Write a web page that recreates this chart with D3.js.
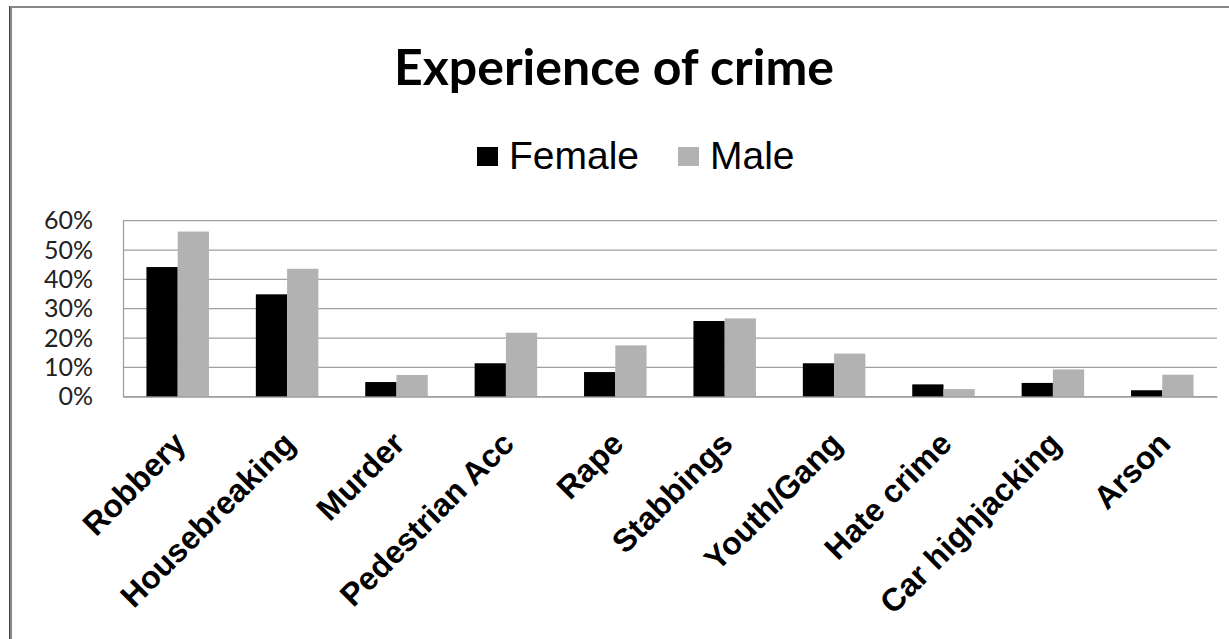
<!DOCTYPE html>
<html>
  <head>
    <style>
      body { margin: 0; background: #fff; }
    </style>
  </head>
  <body>
    <script src="https://d3js.org/d3.v7.min.js"></script>
    <script>
      // chart values
      const crimes = ["Robbery", "Housebreaking", "Murder", "Pedestrian Acc", "Rape",
        "Stabbings", "Youth/Gang", "Hate crime", "Car highjacking", "Arson"];
      const female = [0.442, 0.349, 0.050, 0.114, 0.084, 0.258, 0.114, 0.042, 0.047, 0.022];
      const male = [0.563, 0.436, 0.074, 0.218, 0.175, 0.267, 0.147, 0.026, 0.093, 0.075];
      const seriesNames = ["Female", "Male"];
      const seriesColors = ["#000000", "#b2b2b2"];
      const yTicks = [0, 0.1, 0.2, 0.3, 0.4, 0.5, 0.6];

      const W = 1229, H = 639;
      const svg = d3.select("body").append("svg")
        .attr("width", W)
        .attr("height", H);

      // outer chart frame (only top and left edges are visible)
      svg.append("rect").attr("x", 9).attr("y", 6).attr("width", W - 9).attr("height", 2).attr("fill", "#888");
      svg.append("rect").attr("x", 9).attr("y", 6).attr("width", 3).attr("height", H - 6).attr("fill", "#888");
      svg.append("rect").attr("x", 9).attr("y", 6).attr("width", 1).attr("height", H - 6).attr("fill", "#444");

      const plotL = 123, plotR = 1217, plotT = 220.7, plotB = 396.7;

      const x = d3.scaleBand().domain(crimes).range([plotL, plotR]).paddingInner(0).paddingOuter(0);
      const y = d3.scaleLinear().domain([0, 0.6]).range([plotB, plotT]);
      const barW = x.bandwidth() / 3.5;

      // title
      svg.append("text")
        .attr("x", 614).attr("y", 85)
        .attr("text-anchor", "middle")
        .attr("font-family", "Lato")
        .attr("font-weight", "bold")
        .attr("font-size", 50)
        .attr("fill", "#000")
        .text("Experience of crime");

      // legend
      const legendX = [477, 678];
      seriesNames.forEach((name, i) => {
        svg.append("rect")
          .attr("x", legendX[i]).attr("y", 147)
          .attr("width", 21).attr("height", 19)
          .attr("fill", seriesColors[i]);
        svg.append("text")
          .attr("x", legendX[i] + 32).attr("y", 169)
          .attr("font-family", "Liberation Sans")
          .attr("font-size", 39)
          .attr("fill", "#000")
          .text(name);
      });

      // gridlines
      svg.append("g")
        .selectAll("line")
        .data(yTicks)
        .join("line")
        .attr("x1", plotL).attr("x2", plotR)
        .attr("y1", d => y(d)).attr("y2", d => y(d))
        .attr("stroke", "#a0a0a0")
        .attr("stroke-width", 1.3);

      // y axis
      const yAxis = d3.axisLeft(y).tickValues(yTicks).tickFormat(d3.format(".0%")).tickSize(0).tickPadding(30);
      const gy = svg.append("g").attr("transform", `translate(${plotL},0)`).call(yAxis);
      gy.select(".domain").attr("stroke", "#a0a0a0").attr("stroke-width", 1.3);
      gy.selectAll("text")
        .attr("font-family", "Lato")
        .attr("font-size", 25)
        .attr("fill", "#222");

      // bars
      const series = [female, male];
      series.forEach((vals, s) => {
        svg.append("g")
          .selectAll("rect")
          .data(vals)
          .join("rect")
          .attr("x", (d, i) => x(crimes[i]) + x.bandwidth() / 2 - barW + s * barW)
          .attr("y", d => y(d))
          .attr("width", barW)
          .attr("height", d => plotB - y(d))
          .attr("fill", seriesColors[s]);
      });

      // x axis
      const xAxis = d3.axisBottom(x).tickSize(0).tickPadding(0);
      const gx = svg.append("g").attr("transform", `translate(0,${plotB})`).call(xAxis);
      gx.select(".domain").attr("stroke", "#a0a0a0").attr("stroke-width", 1.3);
      gx.selectAll("text")
        .attr("font-family", "Liberation Sans")
        .attr("font-weight", "bold")
        .attr("font-size", 32)
        .attr("fill", "#000")
        .attr("text-anchor", "end")
        .attr("dy", null)
        .attr("y", null)
        .attr("transform", "translate(10,49) rotate(-45)");
    </script>
  </body>
</html>
